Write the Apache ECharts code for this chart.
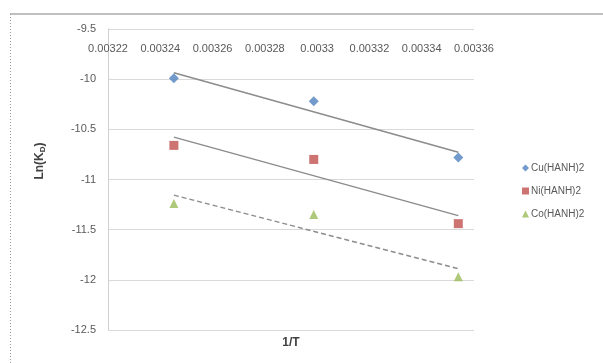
<!DOCTYPE html>
<html>
<head>
<meta charset="utf-8">
<script src="https://cdn.jsdelivr.net/npm/echarts@6/dist/echarts.min.js"></script>
<style>html,body{margin:0;padding:0;background:#fff}#c{width:603px;height:363px}</style>
</head>
<body>
<div id="c"></div>
<script>
// 1/T values (K^-1)
var invT = [0.0032452, 0.0032987, 0.0033540];
var cuVals = [-9.99, -10.22, -10.78];
var niVals = [-10.66, -10.80, -11.44];
var coVals = [-11.24, -11.35, -11.97];
var seriesNames = ['Cu(HANH)2', 'Ni(HANH)2', 'Co(HANH)2'];
var xTicks = ['0.00322','0.00324','0.00326','0.00328','0.0033','0.00332','0.00334','0.00336'];
var yTicks = ['-12.5','-12','-11.5','-11','-10.5','-10','-9.5'];

function pairs(xs, ys){ return xs.map(function(x,i){ return [x, ys[i]]; }); }
function trend(xs, ys){
  var n = xs.length, mx = 0, my = 0;
  for (var i=0;i<n;i++){ mx += xs[i]; my += ys[i]; }
  mx /= n; my /= n;
  var sxy = 0, sxx = 0;
  for (i=0;i<n;i++){ sxy += (xs[i]-mx)*(ys[i]-my); sxx += (xs[i]-mx)*(xs[i]-mx); }
  var b = sxy/sxx, a = my - b*mx;
  var x0 = Math.min.apply(null, xs), x1 = Math.max.apply(null, xs);
  return [[x0, a + b*x0], [x1, a + b*x1]];
}

var chart = echarts.init(document.getElementById('c'), null, {renderer:'canvas'});
var txt = '#595959';
var colors = ['#4F81BD', '#C0504D', '#9BBB59'];
var symbols = ['diamond', 'rect', 'triangle'];
var vals = [cuVals, niVals, coVals];
var series = [];
vals.forEach(function(v, k){
  series.push({
    name: seriesNames[k], type: 'scatter', data: pairs(invT, v),
    symbol: symbols[k], symbolSize: k===0 ? 10 : 9,
    itemStyle: {color: colors[k]}, z: 3
  });
});
vals.forEach(function(v, k){
  series.push({
    name: 'trend' + k, type: 'line', data: trend(invT, v),
    symbol: 'none', silent: true,
    lineStyle: {color: '#8c8c8c', width: 1.5, type: k===2 ? [5,3] : 'solid'}, z: 2
  });
});

chart.setOption({
  animation: false,
  grid: {left: 108, right: 129, top: 29, bottom: 33},
  xAxis: {
    type: 'value', position: 'top', min: 0.00322, max: 0.00336, interval: 0.00002,
    axisLine: {show: false}, axisTick: {show: false}, splitLine: {show: false},
    axisLabel: {inside: true, margin: 14, color: txt, fontSize: 11, fontFamily: 'Liberation Sans',
      formatter: function(v){ var i = Math.round((v-0.00322)/0.00002); return xTicks[i] || ''; }}
  },
  yAxis: {
    type: 'value', min: -12.5, max: -9.5, interval: 0.5,
    axisLine: {show: true, lineStyle: {color: '#d0d0d0', width: 1}},
    axisTick: {show: false},
    splitLine: {lineStyle: {color: '#d9d9d9', width: 1}},
    axisLabel: {color: txt, fontSize: 11, margin: 12, fontFamily: 'Liberation Sans',
      formatter: function(v){ var i = Math.round((v+12.5)/0.5); return yTicks[i] || ''; }}
  },
  legend: {
    data: seriesNames, orient: 'vertical', left: 517, top: 158, itemGap: 13,
    itemWidth: 7, itemHeight: 7,
    textStyle: {color: txt, fontSize: 10, fontFamily: 'Liberation Sans', padding: [0,0,0,-3]}
  },
  graphic: [
    {type: 'line', shape: {x1: 10, y1: 14, x2: 603, y2: 14}, style: {stroke: '#bfbfbf', lineWidth: 2}},
    {type: 'line', shape: {x1: 10.5, y1: 14, x2: 10.5, y2: 363}, style: {stroke: '#9a9a9a', lineWidth: 1, lineDash: [1,2]}},
    {type: 'text', x: 291, y: 343, style: {text: '1/T', font: 'bold 12px Liberation Sans', fill: '#404040', align: 'center', verticalAlign: 'middle'}},
    {type: 'text', x: 40, y: 161, rotation: Math.PI/2,
      style: {text: '{a|Ln(K}{b|D}{a|)}', align: 'center', verticalAlign: 'middle',
        rich: {a: {font: 'bold 12px Liberation Sans', fill: '#404040'}, b: {font: 'bold 8px Liberation Sans', fill: '#404040', padding: [6,0,0,0]}}}}
  ],
  series: series
});
</script>
</body>
</html>
